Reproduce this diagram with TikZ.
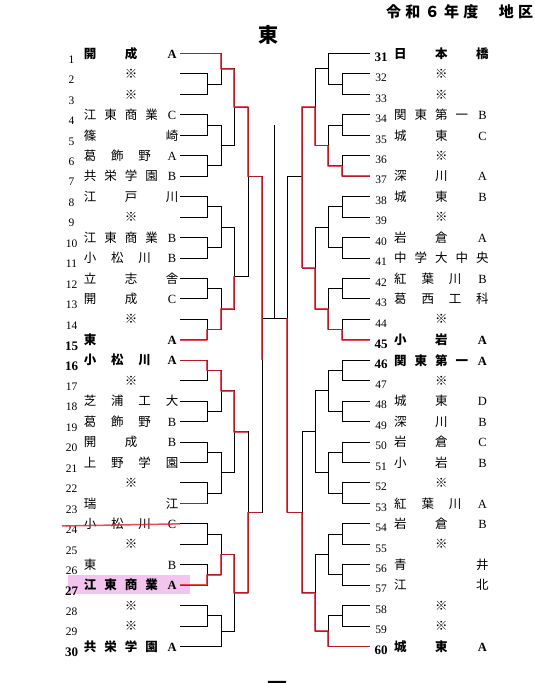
\documentclass[tikz,border=0pt]{standalone}
\usepackage{fontspec}
\setmainfont{Liberation Serif}
\newfontfamily\jp{Noto Sans CJK JP}
\usetikzlibrary{positioning,calc}
\definecolor{redpen}{HTML}{E3222E}
\definecolor{hlpink}{HTML}{F2C4EE}
% spread a name over the five columns
\newcommand{\row}[1]{\makebox[94.5pt]{#1}}
\newcommand{\sx}[1]{\makebox[12.5pt]{\rmfamily #1}}
% one bracket: top, bottom, level, junction name
\newcommand{\bk}[5][.5]{%
  \draw[brk] (#2) -- (#2 -| #4) -- (#3 -| #4) -- (#3);
  \coordinate (#5) at ($(#2 -| #4)!#1!(#3 -| #4)$);}
\tikzset{
  % bracket lines
  brk/.style={line width=1pt},
  % hand marks
  hand/.style={redpen,line width=1.5pt,opacity=.8,line join=round},
  % entries
  num/.style={inner sep=0pt,font=\fontsize{11.5}{12}\selectfont},
  nm/.style={inner sep=0pt,font=\jp\fontsize{12.5}{13}\selectfont},
  nmb/.style={inner sep=0pt,font=\jp\bfseries\fontsize{12.5}{13}\selectfont},
  head/.style={inner sep=0pt,font=\jp\bfseries\fontsize{20}{22}\selectfont},
  ttl/.style={inner sep=0pt,font=\jp\bfseries\fontsize{15}{16}\selectfont}
}
\begin{document}
\begin{tikzpicture}[x=1pt,y=-1pt]
  \useasboundingbox (0,0) rectangle (535,683);
  \clip (0,0) rectangle (535,683);

  % Levels
  \coordinate (L1) at (207,0); \coordinate (L2) at (221,0);
  \coordinate (L3) at (234,0); \coordinate (L4) at (248,0);
  \coordinate (L5) at (262,0);
  \coordinate (R1) at (342,0); \coordinate (R2) at (328,0);
  \coordinate (R3) at (315,0); \coordinate (R4) at (302,0);
  \coordinate (R5) at (287,0);

  % Headings
  \node[ttl,anchor=west] (title) at (386,12)
    {\makebox[147pt]{令\hfill 和\hfill ６\hfill 年\hfill 度\hfill \hspace{12pt}\hfill 地\hfill 区}};
  \node[head] (east) at (268,35) {東};
  \node[head] (west) at (277,690) {西};

  % Highlight on 27
  \fill[hlpink] (68,575) rectangle (190,594);

  % Entry points and numbers
  \foreach \i in {1,...,30}{
    \pgfmathsetmacro\yy{53.5+(\i-1)*20.45}
    \pgfmathtruncatemacro\j{\i+30}
    \pgfmathtruncatemacro\isb{(\i==15)||(\i==16)||(\i==27)||(\i==30)}
    \pgfmathtruncatemacro\isr{(\j==31)||(\j==45)||(\j==46)||(\j==60)}
    \coordinate (e\i) at (180,\yy);
    \coordinate (e\j) at (370,\yy);
    \node[num] (k\i) at (71.5,\yy+6)
      {\ifnum\isb=1 \bfseries\fontsize{13}{14}\selectfont\fi\i};
    \node[num] (k\j) at (381,\yy+4)
      {\ifnum\isr=1 \bfseries\fontsize{13}{14}\selectfont\fi\j};
  }

  % Left names
  \node[nmb,left=1.5pt of e1]  (n1)  {\row{開\hfill 成\hfill \sx{A}}};
  \node[nm,left=1.5pt of e2]   (n2)  {\row{\hfill ※\hfill}};
  \node[nm,left=1.5pt of e3]   (n3)  {\row{\hfill ※\hfill}};
  \node[nm,left=1.5pt of e4]   (n4)  {\row{江\hfill 東\hfill 商\hfill 業\hfill \sx{C}}};
  \node[nm,left=1.5pt of e5]   (n5)  {\row{篠\hfill 崎}};
  \node[nm,left=1.5pt of e6]   (n6)  {\row{葛\hfill 飾\hfill 野\hfill \sx{A}}};
  \node[nm,left=1.5pt of e7]   (n7)  {\row{共\hfill 栄\hfill 学\hfill 園\hfill \sx{B}}};
  \node[nm,left=1.5pt of e8]   (n8)  {\row{江\hfill 戸\hfill 川}};
  \node[nm,left=1.5pt of e9]   (n9)  {\row{\hfill ※\hfill}};
  \node[nm,left=1.5pt of e10]  (n10) {\row{江\hfill 東\hfill 商\hfill 業\hfill \sx{B}}};
  \node[nm,left=1.5pt of e11]  (n11) {\row{小\hfill 松\hfill 川\hfill \sx{B}}};
  \node[nm,left=1.5pt of e12]  (n12) {\row{立\hfill 志\hfill 舎}};
  \node[nm,left=1.5pt of e13]  (n13) {\row{開\hfill 成\hfill \sx{C}}};
  \node[nm,left=1.5pt of e14]  (n14) {\row{\hfill ※\hfill}};
  \node[nmb,left=1.5pt of e15] (n15) {\row{東\hfill \sx{A}}};
  \node[nmb,left=1.5pt of e16] (n16) {\row{小\hfill 松\hfill 川\hfill \sx{A}}};
  \node[nm,left=1.5pt of e17]  (n17) {\row{\hfill ※\hfill}};
  \node[nm,left=1.5pt of e18]  (n18) {\row{芝\hfill 浦\hfill 工\hfill 大}};
  \node[nm,left=1.5pt of e19]  (n19) {\row{葛\hfill 飾\hfill 野\hfill \sx{B}}};
  \node[nm,left=1.5pt of e20]  (n20) {\row{開\hfill 成\hfill \sx{B}}};
  \node[nm,left=1.5pt of e21]  (n21) {\row{上\hfill 野\hfill 学\hfill 園}};
  \node[nm,left=1.5pt of e22]  (n22) {\row{\hfill ※\hfill}};
  \node[nm,left=1.5pt of e23]  (n23) {\row{瑞\hfill 江}};
  \node[nm,left=1.5pt of e24]  (n24) {\row{小\hfill 松\hfill 川\hfill \sx{C}}};
  \node[nm,left=1.5pt of e25]  (n25) {\row{\hfill ※\hfill}};
  \node[nm,left=1.5pt of e26]  (n26) {\row{東\hfill \sx{B}}};
  \node[nmb,left=1.5pt of e27] (n27) {\row{江\hfill 東\hfill 商\hfill 業\hfill \sx{A}}};
  \node[nm,left=1.5pt of e28]  (n28) {\row{\hfill ※\hfill}};
  \node[nm,left=1.5pt of e29]  (n29) {\row{\hfill ※\hfill}};
  \node[nmb,left=1.5pt of e30] (n30) {\row{共\hfill 栄\hfill 学\hfill 園\hfill \sx{A}}};

  % Right names
  \node[nmb,right=24pt of e31] (n31) {\row{日\hfill 本\hfill 橋}};
  \node[nm,right=24pt of e32]  (n32) {\row{\hfill ※\hfill}};
  \node[nm,right=24pt of e33]  (n33) {\row{\hfill ※\hfill}};
  \node[nm,right=24pt of e34]  (n34) {\row{関\hfill 東\hfill 第\hfill 一\hfill \sx{B}}};
  \node[nm,right=24pt of e35]  (n35) {\row{城\hfill 東\hfill \sx{C}}};
  \node[nm,right=24pt of e36]  (n36) {\row{\hfill ※\hfill}};
  \node[nm,right=24pt of e37]  (n37) {\row{深\hfill 川\hfill \sx{A}}};
  \node[nm,right=24pt of e38]  (n38) {\row{城\hfill 東\hfill \sx{B}}};
  \node[nm,right=24pt of e39]  (n39) {\row{\hfill ※\hfill}};
  \node[nm,right=24pt of e40]  (n40) {\row{岩\hfill 倉\hfill \sx{A}}};
  \node[nm,right=24pt of e41]  (n41) {\row{中\hfill 学\hfill 大\hfill 中\hfill 央}};
  \node[nm,right=24pt of e42]  (n42) {\row{紅\hfill 葉\hfill 川\hfill \sx{B}}};
  \node[nm,right=24pt of e43]  (n43) {\row{葛\hfill 西\hfill 工\hfill 科}};
  \node[nm,right=24pt of e44]  (n44) {\row{\hfill ※\hfill}};
  \node[nmb,right=24pt of e45] (n45) {\row{小\hfill 岩\hfill \sx{A}}};
  \node[nmb,right=24pt of e46] (n46) {\row{関\hfill 東\hfill 第\hfill 一\hfill \sx{A}}};
  \node[nm,right=24pt of e47]  (n47) {\row{\hfill ※\hfill}};
  \node[nm,right=24pt of e48]  (n48) {\row{城\hfill 東\hfill \sx{D}}};
  \node[nm,right=24pt of e49]  (n49) {\row{深\hfill 川\hfill \sx{B}}};
  \node[nm,right=24pt of e50]  (n50) {\row{岩\hfill 倉\hfill \sx{C}}};
  \node[nm,right=24pt of e51]  (n51) {\row{小\hfill 岩\hfill \sx{B}}};
  \node[nm,right=24pt of e52]  (n52) {\row{\hfill ※\hfill}};
  \node[nm,right=24pt of e53]  (n53) {\row{紅\hfill 葉\hfill 川\hfill \sx{A}}};
  \node[nm,right=24pt of e54]  (n54) {\row{岩\hfill 倉\hfill \sx{B}}};
  \node[nm,right=24pt of e55]  (n55) {\row{\hfill ※\hfill}};
  \node[nm,right=24pt of e56]  (n56) {\row{青\hfill 井}};
  \node[nm,right=24pt of e57]  (n57) {\row{江\hfill 北}};
  \node[nm,right=24pt of e58]  (n58) {\row{\hfill ※\hfill}};
  \node[nm,right=24pt of e59]  (n59) {\row{\hfill ※\hfill}};
  \node[nmb,right=24pt of e60] (n60) {\row{城\hfill 東\hfill \sx{A}}};

  % Left brackets 1-15
  \bk{e2}{e3}{L1}{a23}
  \bk{e1}{a23}{L2}{a13}
  \bk{e4}{e5}{L1}{a45}
  \bk{e6}{e7}{L1}{a67}
  \bk{a45}{a67}{L2}{a47}
  \bk{a13}{a47}{L3}{a17}
  \bk{e8}{e9}{L1}{a89}
  \bk{e10}{e11}{L1}{a1011}
  \bk{a89}{a1011}{L2}{a811}
  \bk{e12}{e13}{L1}{a1213}
  \bk{e14}{e15}{L1}{a1415}
  \bk{a1213}{a1415}{L2}{a1215}
  \bk[.6]{a811}{a1215}{L3}{a815}
  \bk[.41]{a17}{a815}{L4}{a115}
  % Left brackets 16-30
  \bk{e16}{e17}{L1}{a1617}
  \bk{e18}{e19}{L1}{a1819}
  \bk{a1617}{a1819}{L2}{a1619}
  \bk{e20}{e21}{L1}{a2021}
  \bk{e22}{e23}{L1}{a2223}
  \bk{a2021}{a2223}{L2}{a2023}
  \bk{a1619}{a2023}{L3}{a1623}
  \bk{e24}{e25}{L1}{a2425}
  \bk{e26}{e27}{L1}{a2627}
  \bk{a2425}{a2627}{L2}{a2427}
  \bk{e28}{e29}{L1}{a2829}
  \bk{a2829}{e30}{L2}{a2830}
  \bk{a2427}{a2830}{L3}{a2430}
  \bk{a1623}{a2430}{L4}{a1630}
  \bk{a115}{a1630}{L5}{aL}

  % Right brackets 31-45
  \bk{e32}{e33}{R1}{b3233}
  \bk{e31}{b3233}{R2}{b3133}
  \bk{e34}{e35}{R1}{b3435}
  \bk{e36}{e37}{R1}{b3637}
  \bk{b3435}{b3637}{R2}{b3437}
  \bk{b3133}{b3437}{R3}{b3137}
  \bk{e38}{e39}{R1}{b3839}
  \bk{e40}{e41}{R1}{b4041}
  \bk{b3839}{b4041}{R2}{b3841}
  \bk{e42}{e43}{R1}{b4243}
  \bk{e44}{e45}{R1}{b4445}
  \bk{b4243}{b4445}{R2}{b4245}
  \bk{b3841}{b4245}{R3}{b3845}
  \bk[.43]{b3137}{b3845}{R4}{b3145}
  % Right brackets 46-60
  \bk{e46}{e47}{R1}{b4647}
  \bk{e48}{e49}{R1}{b4849}
  \bk{b4647}{b4849}{R2}{b4649}
  \bk{e50}{e51}{R1}{b5051}
  \bk{e52}{e53}{R1}{b5253}
  \bk{b5051}{b5253}{R2}{b5053}
  \bk{b4649}{b5053}{R3}{b4653}
  \bk{e54}{e55}{R1}{b5455}
  \bk{e56}{e57}{R1}{b5657}
  \bk{b5455}{b5657}{R2}{b5457}
  \bk{e58}{e59}{R1}{b5859}
  \bk{b5859}{e60}{R2}{b5860}
  \bk{b5457}{b5860}{R3}{b5460}
  \bk{b4653}{b5460}{R4}{b4660}
  \bk{b3145}{b4660}{R5}{bR}

  % Final
  \coordinate (fL) at (262,318);
  \coordinate (fR) at (287,318);
  \coordinate (fC) at (274.5,318);
  \coordinate (champ) at (274.5,125);
  \draw[brk] (fL) -- (fR);
  \draw[brk] (fC) -- (champ);

  % Hand marks
  \coordinate (s24) at (62,526);
  \coordinate (low) at (262,360);
  \draw[hand] (e1) -- (e1 -| L2) -- (a13) -- (a13 -| L3) -- (a17) -- (a17 -| L4)
    -- (a115) -- (a115 -| L5) -- (low);
  \draw[hand] (e15) -- (e15 -| L1) -- (a1415) -- (a1415 -| L2) -- (a1215)
    -- (a1215 -| L3) -- (a815);
  \draw[hand] (e16) -- (e16 -| L1) -- (a1617) -- (a1617 -| L2) -- (a1619)
    -- (a1619 -| L3) -- (a1623) -- (a1623 -| L4);
  \draw[hand] (e23) -- (e23 -| L1);
  \draw[hand] (s24) -- (e24);
  \draw[hand] (e27) -- (e27 -| L1) -- (a2627) -- (a2627 -| L2) -- (a2427)
    -- (a2427 -| L3) -- (a2430) -- (a2430 -| L4) -- (a1630) -- (a1630 -| L5);
  \draw[hand] (e37) -- (e37 -| R1) -- (b3637) -- (b3637 -| R2) -- (b3437)
    -- (b3437 -| R3) -- (b3137) -- (b3137 -| R4) -- (b3845 -| R4);
  \draw[hand] (e45) -- (e45 -| R1) -- (b4445) -- (b4445 -| R2) -- (b4245)
    -- (b4245 -| R3) -- (b3845) -- (b3845 -| R4);
  \draw[hand] (e60) -- (e60 -| R2) -- (b5860) -- (b5860 -| R3) -- (b5460)
    -- (b5460 -| R4) -- (b4660) -- (b4660 -| R5) -- (fR);
\end{tikzpicture}
\end{document}
